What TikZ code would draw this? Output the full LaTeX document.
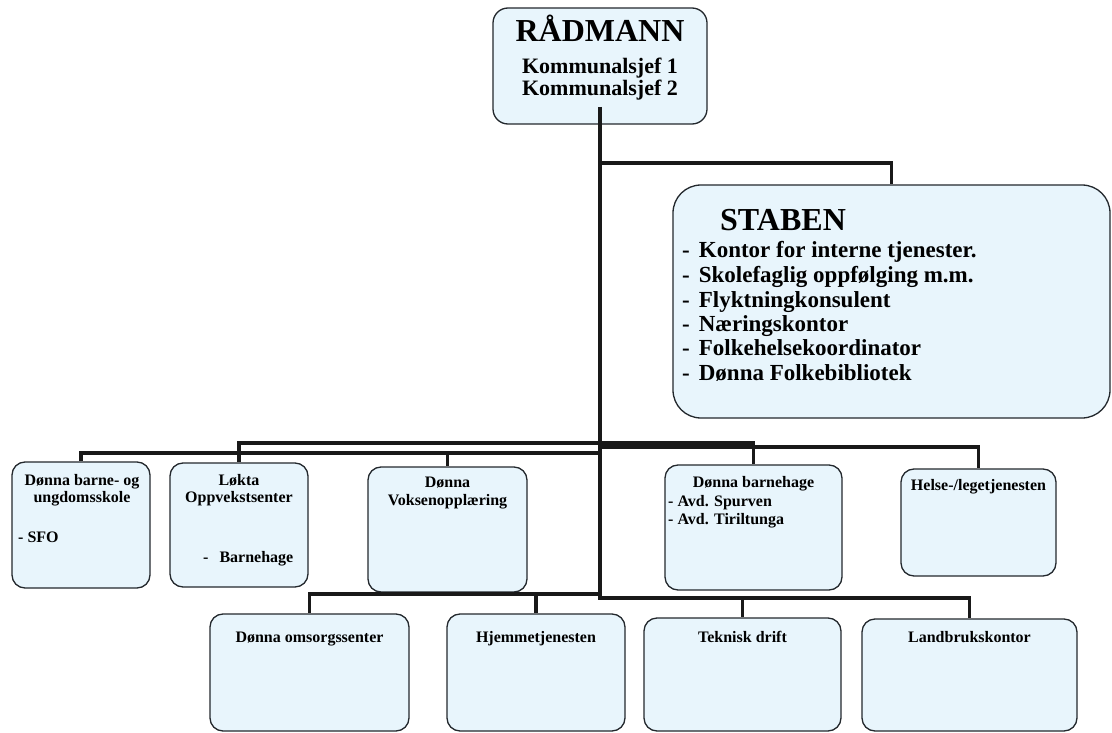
\documentclass[tikz,border=0pt]{standalone}
\usepackage{fontspec}
\setmainfont{Liberation Serif}
\usetikzlibrary{positioning}
\definecolor{boxfill}{RGB}{232,245,252}
\definecolor{boxline}{RGB}{35,40,45}

\begin{document}
\begin{tikzpicture}[x=1pt, y=-1pt,
                box/.style = {
                    rectangle, rounded corners=13pt,
                    draw=boxline, fill=boxfill,
                    line width=1.3pt, inner sep=0pt
                },
                lbl/.style = {
                    inner sep=0pt, anchor=base,
                    font=\bfseries\fontsize{16}{18}\selectfont
                },
                big/.style = {
                    lbl, font=\bfseries\fontsize{32}{34}\selectfont
                },
                mid/.style = {
                    lbl, font=\bfseries\fontsize{22}{24}\selectfont
                },
                item/.style = {
                    lbl, anchor=base west,
                    font=\bfseries\fontsize{23}{25}\selectfont
                },
                link/.style = {
                    draw=black!90, line width=3.5pt
                }
                ]

                \useasboundingbox (0,0) rectangle (1112,733);

                % boxes
                \node[box, rounded corners=15pt, minimum width=214pt, minimum height=116pt] (rad) at (600,66) {};
                \node[box, rounded corners=28pt, minimum width=437pt, minimum height=233pt] (stab) at (891.5,301.5) {};

                \node[box, minimum width=138pt, minimum height=126pt] (skole) at (81,525) {};
                \node[box, minimum width=138pt, minimum height=124pt] (lokta) at (239,525) {};
                \node[box, minimum width=159pt, minimum height=125pt] (voksen) at (447.5,529.5) {};
                \node[box, minimum width=177pt, minimum height=125pt] (bhage) at (753.5,527.5) {};
                \node[box, minimum width=155pt, minimum height=107pt] (helse) at (978.5,522.5) {};

                \node[box, minimum width=199pt, minimum height=117pt] (omsorg) at (309.5,672.5) {};
                \node[box, minimum width=178pt, minimum height=117pt] (hjemme) at (536,672.5) {};
                \node[box, minimum width=197pt, minimum height=113pt] (teknisk) at (742.5,674.5) {};
                \node[box, minimum width=215pt, minimum height=112pt] (landbruk) at (969.5,675) {};

                % texts
                \node[big] (radT) at (600,42) {RÅDMANN};
                \node[mid] (radK1) at (600,74) {Kommunalsjef 1};
                \node[mid] (radK2) at (600,96) {Kommunalsjef 2};

                \node[big, anchor=base west] (stabT) at (720,230) {STABEN};
                \node[item] (stab1) at (682,258) {-\hspace{9pt}Kontor for interne tjenester.};
                \node[item] (stab2) at (682,282.5) {-\hspace{9pt}Skolefaglig oppfølging m.m.};
                \node[item] (stab3) at (682,307) {-\hspace{9pt}Flyktningkonsulent};
                \node[item] (stab4) at (682,331) {-\hspace{9pt}Næringskontor};
                \node[item] (stab5) at (682,355.5) {-\hspace{9pt}Folkehelsekoordinator};
                \node[item] (stab6) at (682,380) {-\hspace{9pt}Dønna Folkebibliotek};

                \node[lbl] (skoleT1) at (82,485) {Dønna barne- og};
                \node[lbl] (skoleT2) at (82,502) {ungdomsskole};
                \node[lbl, anchor=base west] (skoleS) at (18,542) {- SFO};

                \node[lbl] (loktaT1) at (239,485) {Løkta};
                \node[lbl] (loktaT2) at (239,502) {Oppvekstsenter};
                \node[lbl, anchor=base west] (loktaS) at (203,562) {-\hspace{11pt}Barnehage};

                \node[lbl] (voksenT1) at (447.5,487) {Dønna};
                \node[lbl] (voksenT2) at (447.5,505) {Voksenopplæring};

                \node[lbl] (bhageT) at (753.5,487) {Dønna barnehage};
                \node[lbl, anchor=base west] (bhageS1) at (668,506) {- Avd. Spurven};
                \node[lbl, anchor=base west] (bhageS2) at (668,524) {- Avd. Tiriltunga};

                \node[lbl] (helseT) at (978.5,490) {Helse-/legetjenesten};

                \node[lbl] (omsorgT) at (309.5,642) {Dønna omsorgssenter};
                \node[lbl] (hjemmeT) at (536,642) {Hjemmetjenesten};
                \node[lbl] (tekniskT) at (742.5,642) {Teknisk drift};
                \node[lbl] (landbrukT) at (969.5,642) {Landbrukskontor};

                % connectors
                \coordinate (top) at (600,107);
                \coordinate (jst) at (600,163);
                \coordinate (j1) at (600,453);
                \coordinate (j2) at (600,443);
                \coordinate (j5) at (600,447);
                \coordinate (j6) at (600,594);
                \coordinate (j8) at (600,598);

                \path[link] (top) -- ([yshift=-1.75pt]j8);
                \path[link] (jst) -| (stab.north);

                \path[link] (j1) -| (skole.north);
                \path[link] (j2) -| (lokta.north);
                \path[link] (j1) -| (voksen.north);
                \path[link] (j2) -| (bhage.north);
                \path[link] (j5) -| (helse.north);

                \path[link] (j6) -| (omsorg.north);
                \path[link] (j6) -| (hjemme.north);
                \path[link] (j8) -| (teknisk.north);
                \path[link] (j8) -| (landbruk.north);
            \end{tikzpicture}
\end{document}
